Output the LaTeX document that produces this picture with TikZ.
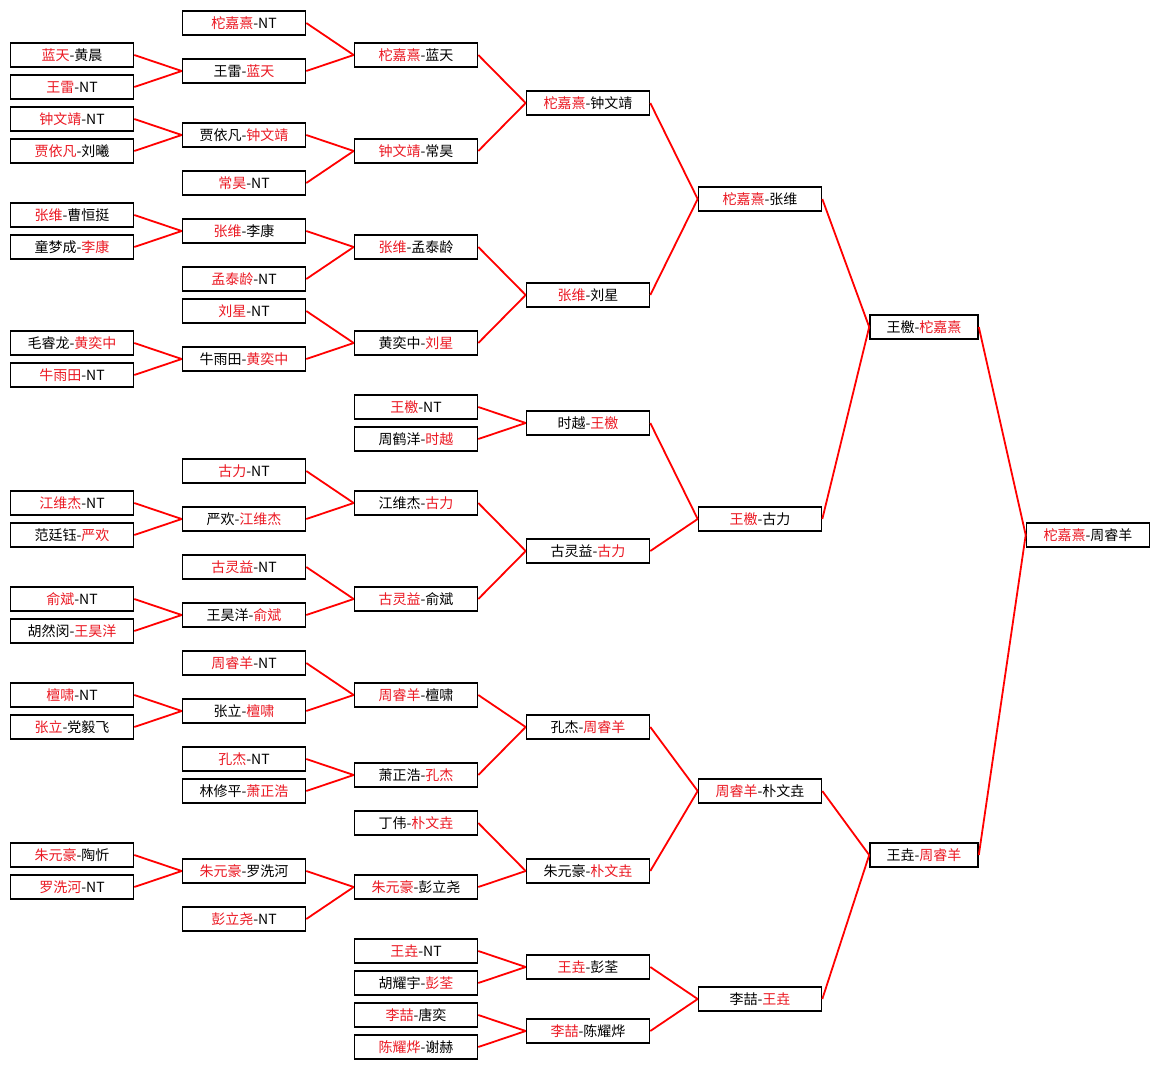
\documentclass[tikz,border=0pt]{standalone}
\usepackage{fontspec}
\usepackage{tikz}
\newfontfamily\cjk{Noto Sans CJK SC}
\definecolor{winred}{RGB}{235,25,35}
\newcommand{\winner}[1]{\textcolor{winred}{#1}}

\begin{document}
\begin{tikzpicture}[x=1pt,y=-1pt,
  game/.style={rectangle,draw,line width=1.6pt,fill=white,minimum width=123pt,
    minimum height=24pt,inner sep=0pt,font=\cjk\fontsize{14}{16}\selectfont},
  semi/.style={game,minimum width=108pt},
  link/.style={red,line width=1.8pt}]
\useasboundingbox (0,0) rectangle (1160,1069);

% first round
\node[game] (a3) at (72,55) {\winner{蓝天}-黄晨};
\node[game] (a5) at (72,87) {\winner{王雷}-NT};
\node[game] (a7) at (72,119) {\winner{钟文靖}-NT};
\node[game] (a9) at (72,151) {\winner{贾依凡}-刘曦};
\node[game] (a13) at (72,215) {\winner{张维}-曹恒挺};
\node[game] (a15) at (72,247) {童梦成-\winner{李康}};
\node[game] (a21) at (72,343) {毛睿龙-\winner{黄奕中}};
\node[game] (a23) at (72,375) {\winner{牛雨田}-NT};
\node[game] (a31) at (72,503) {\winner{江维杰}-NT};
\node[game] (a33) at (72,535) {范廷钰-\winner{严欢}};
\node[game] (a37) at (72,599) {\winner{俞斌}-NT};
\node[game] (a39) at (72,631) {胡然闵-\winner{王昊洋}};
\node[game] (a43) at (72,695) {\winner{檀啸}-NT};
\node[game] (a45) at (72,727) {\winner{张立}-党毅飞};
\node[game] (a53) at (72,855) {\winner{朱元豪}-陶忻};
\node[game] (a55) at (72,887) {\winner{罗洗河}-NT};

% second round
\node[game] (b1) at (244,23) {\winner{柁嘉熹}-NT};
\node[game] (b4) at (244,71) {王雷-\winner{蓝天}};
\node[game] (b8) at (244,135) {贾依凡-\winner{钟文靖}};
\node[game] (b11) at (244,183) {\winner{常昊}-NT};
\node[game] (b14) at (244,231) {\winner{张维}-李康};
\node[game] (b17) at (244,279) {\winner{孟泰龄}-NT};
\node[game] (b19) at (244,311) {\winner{刘星}-NT};
\node[game] (b22) at (244,359) {牛雨田-\winner{黄奕中}};
\node[game] (b29) at (244,471) {\winner{古力}-NT};
\node[game] (b32) at (244,519) {严欢-\winner{江维杰}};
\node[game] (b35) at (244,567) {\winner{古灵益}-NT};
\node[game] (b38) at (244,615) {王昊洋-\winner{俞斌}};
\node[game] (b41) at (244,663) {\winner{周睿羊}-NT};
\node[game] (b44) at (244,711) {张立-\winner{檀啸}};
\node[game] (b47) at (244,759) {\winner{孔杰}-NT};
\node[game] (b49) at (244,791) {林修平-\winner{萧正浩}};
\node[game] (b54) at (244,871) {\winner{朱元豪}-罗洗河};
\node[game] (b57) at (244,919) {\winner{彭立尧}-NT};

% third round
\node[game] (c3) at (416,55) {\winner{柁嘉熹}-蓝天};
\node[game] (c9) at (416,151) {\winner{钟文靖}-常昊};
\node[game] (c15) at (416,247) {\winner{张维}-孟泰龄};
\node[game] (c21) at (416,343) {黄奕中-\winner{刘星}};
\node[game] (c25) at (416,407) {\winner{王檄}-NT};
\node[game] (c27) at (416,439) {周鹤洋-\winner{时越}};
\node[game] (c31) at (416,503) {江维杰-\winner{古力}};
\node[game] (c37) at (416,599) {\winner{古灵益}-俞斌};
\node[game] (c43) at (416,695) {\winner{周睿羊}-檀啸};
\node[game] (c48) at (416,775) {萧正浩-\winner{孔杰}};
\node[game] (c51) at (416,823) {丁伟-\winner{朴文垚}};
\node[game] (c55) at (416,887) {\winner{朱元豪}-彭立尧};
\node[game] (c59) at (416,951) {\winner{王垚}-NT};
\node[game] (c61) at (416,983) {胡耀宇-\winner{彭荃}};
\node[game] (c63) at (416,1015) {\winner{李喆}-唐奕};
\node[game] (c65) at (416,1047) {\winner{陈耀烨}-谢赫};

% last sixteen
\node[game] (d6) at (588,103) {\winner{柁嘉熹}-钟文靖};
\node[game] (d18) at (588,295) {\winner{张维}-刘星};
\node[game] (d26) at (588,423) {时越-\winner{王檄}};
\node[game] (d34) at (588,551) {古灵益-\winner{古力}};
\node[game] (d45) at (588,727) {孔杰-\winner{周睿羊}};
\node[game] (d54) at (588,871) {朱元豪-\winner{朴文垚}};
\node[game] (d60) at (588,967) {\winner{王垚}-彭荃};
\node[game] (d64) at (588,1031) {\winner{李喆}-陈耀烨};

% quarter finals
\node[game] (e12) at (760,199) {\winner{柁嘉熹}-张维};
\node[game] (e32) at (760,519) {\winner{王檄}-古力};
\node[game] (e49) at (760,791) {\winner{周睿羊}-朴文垚};
\node[game] (e62) at (760,999) {李喆-\winner{王垚}};

% semi finals
\node[semi] (f20) at (924,327) {王檄-\winner{柁嘉熹}};
\node[semi] (f53) at (924,855) {王垚-\winner{周睿羊}};

% final
\node[game] (g33) at (1088,535) {\winner{柁嘉熹}-周睿羊};

\draw[link] (a3.east) -- (b4.west);
\draw[link] (a5.east) -- (b4.west);
\draw[link] (a7.east) -- (b8.west);
\draw[link] (a9.east) -- (b8.west);
\draw[link] (a13.east) -- (b14.west);
\draw[link] (a15.east) -- (b14.west);
\draw[link] (a21.east) -- (b22.west);
\draw[link] (a23.east) -- (b22.west);
\draw[link] (a31.east) -- (b32.west);
\draw[link] (a33.east) -- (b32.west);
\draw[link] (a37.east) -- (b38.west);
\draw[link] (a39.east) -- (b38.west);
\draw[link] (a43.east) -- (b44.west);
\draw[link] (a45.east) -- (b44.west);
\draw[link] (a53.east) -- (b54.west);
\draw[link] (a55.east) -- (b54.west);

\draw[link] (b1.east) -- (c3.west);
\draw[link] (b4.east) -- (c3.west);
\draw[link] (b8.east) -- (c9.west);
\draw[link] (b11.east) -- (c9.west);
\draw[link] (b14.east) -- (c15.west);
\draw[link] (b17.east) -- (c15.west);
\draw[link] (b19.east) -- (c21.west);
\draw[link] (b22.east) -- (c21.west);
\draw[link] (b29.east) -- (c31.west);
\draw[link] (b32.east) -- (c31.west);
\draw[link] (b35.east) -- (c37.west);
\draw[link] (b38.east) -- (c37.west);
\draw[link] (b41.east) -- (c43.west);
\draw[link] (b44.east) -- (c43.west);
\draw[link] (b47.east) -- (c48.west);
\draw[link] (b49.east) -- (c48.west);
\draw[link] (b54.east) -- (c55.west);
\draw[link] (b57.east) -- (c55.west);

\draw[link] (c3.east) -- (d6.west);
\draw[link] (c9.east) -- (d6.west);
\draw[link] (c15.east) -- (d18.west);
\draw[link] (c21.east) -- (d18.west);
\draw[link] (c25.east) -- (d26.west);
\draw[link] (c27.east) -- (d26.west);
\draw[link] (c31.east) -- (d34.west);
\draw[link] (c37.east) -- (d34.west);
\draw[link] (c43.east) -- (d45.west);
\draw[link] (c48.east) -- (d45.west);
\draw[link] (c51.east) -- (d54.west);
\draw[link] (c55.east) -- (d54.west);
\draw[link] (c59.east) -- (d60.west);
\draw[link] (c61.east) -- (d60.west);
\draw[link] (c63.east) -- (d64.west);
\draw[link] (c65.east) -- (d64.west);

\draw[link] (d6.east) -- (e12.west);
\draw[link] (d18.east) -- (e12.west);
\draw[link] (d26.east) -- (e32.west);
\draw[link] (d34.east) -- (e32.west);
\draw[link] (d45.east) -- (e49.west);
\draw[link] (d54.east) -- (e49.west);
\draw[link] (d60.east) -- (e62.west);
\draw[link] (d64.east) -- (e62.west);

\draw[link] (e12.east) -- (f20.west);
\draw[link] (e32.east) -- (f20.west);
\draw[link] (e49.east) -- (f53.west);
\draw[link] (e62.east) -- (f53.west);

\draw[link] (f20.east) -- (g33.west);
\draw[link] (f53.east) -- (g33.west);

\end{tikzpicture}
\end{document}
